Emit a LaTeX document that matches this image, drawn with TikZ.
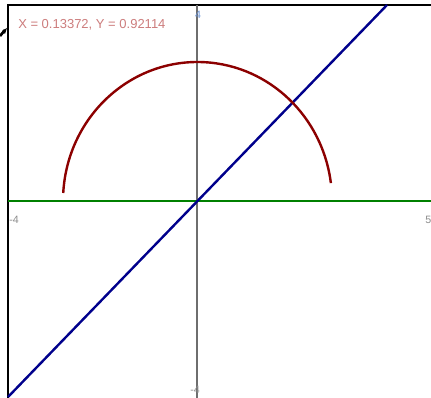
\documentclass[tikz,border=0pt]{standalone}
\usepackage{fontspec}
\setmainfont{Liberation Sans}
\begin{document}
\begin{tikzpicture}[x=0.75pt,y=0.75pt,
  axislab/.style={font=\fontsize{8pt}{9pt}\selectfont,text=gray!90,inner sep=0pt},
  curve/.style={line width=1.8pt},
  axisline/.style={line width=1.5pt}]
\useasboundingbox (0,0) rectangle (431,398);
\fill[white] (0,0) rectangle (431,398);
% frame
\coordinate (fbl) at (8,0);
\coordinate (ftl) at (8,393);
\coordinate (ftr) at (431,393);
\draw[black,line width=1pt] (fbl) -- (ftl) -- (ftr);
% axes
\coordinate (vtop) at (197,393);
\coordinate (vbot) at (197,0);
\draw[axisline,draw={rgb,255:red,110;green,110;blue,110}] (vtop) -- (vbot);
\coordinate (hl) at (8,197);
\coordinate (hr) at (431,197);
\draw[axisline,draw={rgb,255:red,0;green,128;blue,0}] (hl) -- (hr);
% line
\coordinate (lb) at (8,1);
\coordinate (lt) at (387,393);
\draw[curve,draw={rgb,255:red,0;green,0;blue,140}] (lb) -- (lt);
% arc
\coordinate (as) at ({197.5+134.5*cos(176.7)},{197+139*sin(176.7)});
\draw[curve,draw={rgb,255:red,140;green,0;blue,0}] (as) arc[start angle=176.7,end angle=7.4,x radius=134.5,y radius=139];
% labels
\node[axislab,anchor=west] (lm4) at (9,178) {-4};
\node[axislab,anchor=west] (l5) at (425,178) {5};
\node[axislab,anchor=center,text={rgb,255:red,110;green,150;blue,215}] (l4) at (198,383) {4};
\node[axislab,anchor=center] (lbm4) at (195,8) {-4};
% coordinate readout
\node[anchor=base west,inner sep=0pt,font=\fontsize{9.75pt}{11pt}\selectfont,text={rgb,255:red,205;green,125;blue,125}] (readout) at (18,369) {X = 0.13372, Y = 0.92114};
% cursor fragment
\coordinate (c1) at (0,362);
\coordinate (c2) at (5,368);
\draw[black,line width=2pt] (c1) -- (c2);
\fill[black] (2,367) -- (7,370) -- (5,364) -- cycle;
\end{tikzpicture}
\end{document}
